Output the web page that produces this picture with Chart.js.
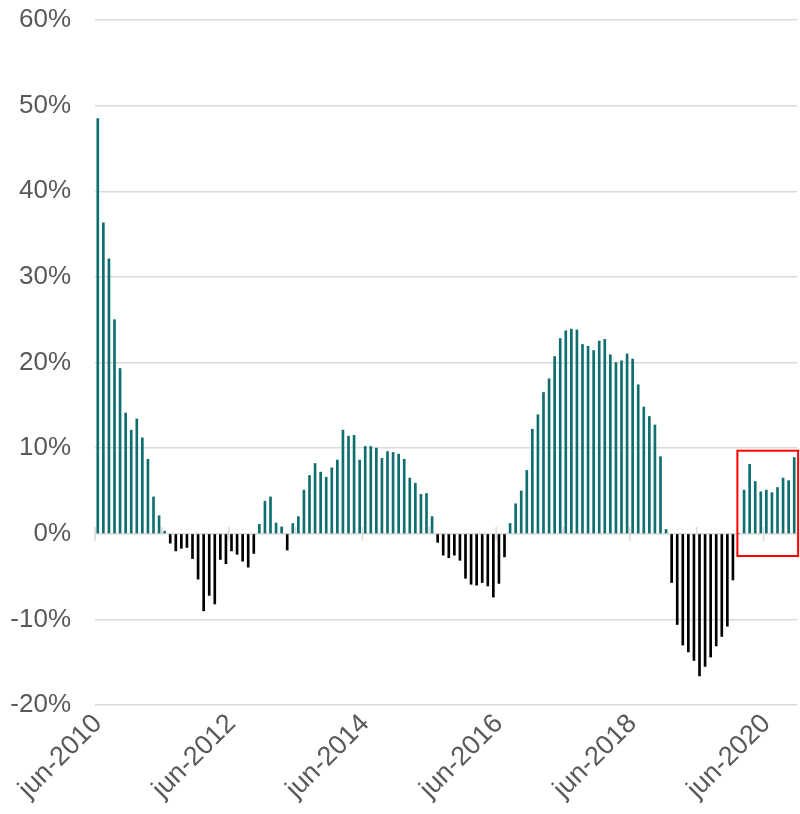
<!DOCTYPE html>
<html>
<head>
<meta charset="utf-8">
<script src="https://cdn.jsdelivr.net/npm/chart.js@4"></script>
<style>
  body { margin: 0; background: #fff; }
  canvas { display: block; }
</style>
</head>
<body>
<canvas id="my-chart" width="800" height="814"></canvas>
<script>
// monthly change, jun-2010 .. nov-2020 (%)
const growth = [
  48.5, 36.3, 32.1, 25.0, 19.3, 14.1, 12.1, 13.4, 11.2, 8.7, 4.3, 2.1,
  0.3, -1.1, -2.0, -1.7, -1.6, -2.9, -5.3, -9.0, -7.2, -8.2, -3.0, -3.5,
  -2.0, -2.4, -3.2, -3.9, -2.3, 1.1, 3.8, 4.3, 1.25, 0.8, -1.9, 1.2,
  2.0, 5.1, 6.8, 8.2, 7.2, 6.6, 7.7, 8.6, 12.1, 11.4, 11.5, 8.6,
  10.2, 10.2, 10.0, 8.8, 9.6, 9.5, 9.3, 8.7, 6.5, 5.9, 4.6, 4.7,
  2.0, -1.0, -2.5, -2.8, -2.5, -3.1, -5.2, -5.9, -6.0, -5.7, -6.1, -7.4,
  -5.8, -2.7, 1.2, 3.5, 5.0, 7.4, 12.2, 13.9, 16.5, 18.1, 20.7, 22.8,
  23.7, 23.9, 23.8, 22.1, 21.9, 21.4, 22.5, 22.7, 20.9, 20.0, 20.2, 21.0,
  20.4, 17.4, 14.8, 13.7, 12.7, 9.0, 0.5, -5.7, -10.6, -13.0, -13.8, -14.8,
  -16.6, -15.5, -14.4, -13.1, -12.0, -10.8, -5.4, 0, 5.1, 8.1, 6.1, 4.9,
  5.1, 4.8, 5.4, 6.5, 6.2, 8.9,
];

const monthNames = ["jan", "feb", "mar", "apr", "may", "jun", "jul", "aug", "sep", "oct", "nov", "dec"];
const categories = growth.map((v, i) => monthNames[(5 + i) % 12] + "-" + (2010 + Math.floor((5 + i) / 12)));

const tickLabels = ["jun-2010", "jun-2012", "jun-2014", "jun-2016", "jun-2018", "jun-2020"];
const yTicks = [-20, -10, 0, 10, 20, 30, 40, 50, 60];

// red box around the last months
const highlight = { from: 115, to: 125, top: 9.7, bottom: -2.6 };

const font = "'Liberation Sans', Arial, sans-serif";

const zeroTicks = {
  id: "zeroTicks",
  beforeDatasetsDraw(chart) {
    const { ctx, scales } = chart;
    const y0 = scales.y.getPixelForValue(0);
    const w = (scales.x.right - scales.x.left) / categories.length;
    ctx.save();
    ctx.strokeStyle = "#d9d9d9";
    ctx.lineWidth = 1.5;
    ctx.beginPath();
    for (let i = 0; i <= categories.length; i += 12) {
      const px = scales.x.left + i * w;
      ctx.moveTo(px, y0 - 7);
      ctx.lineTo(px, i % 24 === 0 ? y0 + 7 : y0);
    }
    ctx.stroke();
    ctx.restore();
  },
};

const redBox = {
  id: "redBox",
  afterDatasetsDraw(chart) {
    const { ctx, scales } = chart;
    const w = (scales.x.right - scales.x.left) / categories.length;
    const left = scales.x.getPixelForValue(highlight.from) - w * 0.2;
    const right = scales.x.getPixelForValue(highlight.to) + w * 0.7;
    const top = scales.y.getPixelForValue(highlight.top);
    const bottom = scales.y.getPixelForValue(highlight.bottom);
    ctx.save();
    ctx.strokeStyle = "#ff0000";
    ctx.lineWidth = 2;
    ctx.strokeRect(left, top, right - left, bottom - top);
    ctx.restore();
  },
};

new Chart(document.getElementById("my-chart"), {
  type: "bar",
  data: {
    labels: categories,
    datasets: [
      {
        data: growth,
        backgroundColor: growth.map((v) => (v < 0 ? "#000000" : "#0f6e6e")),
        barThickness: 2,
      },
    ],
  },
  options: {
    responsive: false,
    animation: false,
    devicePixelRatio: 1,
    layout: { padding: { top: 0, right: 3, left: 0, bottom: 0 } },
    plugins: {
      legend: { display: false },
      tooltip: { enabled: false },
    },
    scales: {
      x: {
        grid: { display: false },
        border: { display: false },
        ticks: {
          autoSkip: false,
          minRotation: 45,
          maxRotation: 45,
          padding: -5,
          color: "#595959",
          font: { family: font, size: 27 },
          callback: (v, i) => (tickLabels.includes(categories[i]) ? categories[i] : ""),
        },
        afterFit: (scale) => {
          scale.height = 109;
          scale.paddingLeft = 0;
          scale.paddingRight = 0;
        },
      },
      y: {
        min: -20,
        max: 60,
        afterBuildTicks: (scale) => {
          scale.ticks = yTicks.map((v) => ({ value: v }));
        },
        grid: { color: "#d9d9d9", lineWidth: 1.5, drawTicks: false },
        border: { display: false },
        ticks: {
          padding: 24,
          color: "#595959",
          font: { family: font, size: 26 },
          callback: (v) => v + "%",
        },
        afterFit: (scale) => {
          scale.width = 95;
          scale.paddingTop = 20;
          scale.paddingBottom = 0;
        },
      },
    },
  },
  plugins: [zeroTicks, redBox],
});
</script>
</body>
</html>
